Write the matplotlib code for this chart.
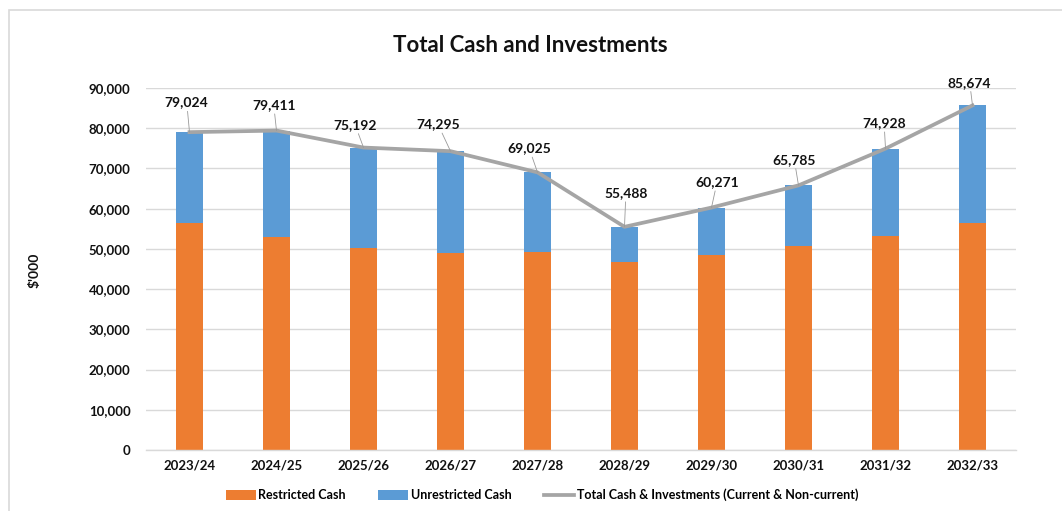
#!/usr/bin/env python3

import matplotlib
matplotlib.use('Agg')
import matplotlib.pyplot as plt
from matplotlib.patches import Rectangle
import numpy as np

# ------------------------------------------
# Data ($'000)
# ------------------------------------------
years = ['2023/24', '2024/25', '2025/26', '2026/27', '2027/28',
         '2028/29', '2029/30', '2030/31', '2031/32', '2032/33']
total = [79024, 79411, 75192, 74295, 69025, 55488, 60271, 65785, 74928, 85674]
restricted = [56400, 52900, 50300, 49100, 49300, 46700, 48500, 50600, 53100, 56400]
unrestricted = [t - r for t, r in zip(total, restricted)]

# label offsets in points (dx, dy) from each line point
label_offsets = [(-2, 17), (-2, 14), (-6, 12), (-9, 15), (-6, 13),
                 (1, 20), (4, 14), (-3, 14), (-1, 14), (-2, 12)]

ORANGE = '#ED7D31'
BLUE = '#5B9BD5'
GREY = '#A5A5A5'

plt.rcParams['font.family'] = ['Lato', 'DejaVu Sans']


def main():
    fig = plt.figure(figsize=(10.62, 5.11), dpi=100)

    # outer chart border
    fig.patches.append(Rectangle((9 / 1062, -0.1), 1.2, 1.1 - 10 / 511,
                                 transform=fig.transFigure, fill=False,
                                 edgecolor='#D9D9D9', linewidth=1.2))

    ax = fig.add_axes([146 / 1062, 61 / 511, 870 / 1062, 362 / 511])
    x = np.arange(len(years))

    b1 = ax.bar(x, restricted, width=0.31, color=ORANGE, label='Restricted Cash', zorder=2)
    b2 = ax.bar(x, unrestricted, width=0.31, bottom=restricted, color=BLUE,
                label='Unrestricted Cash', zorder=2)
    ln, = ax.plot(x, total, color=GREY, linewidth=2.7, zorder=3,
                  label='Total Cash & Investments (Current & Non-current)')

    for xi, t, (dx, dy) in zip(x, total, label_offsets):
        ax.annotate(f'{t:,}', (xi, t), xytext=(dx, dy), textcoords='offset points',
                    ha='center', va='bottom', fontsize=10, fontweight='bold',
                    color='#111111', zorder=4,
                    arrowprops=dict(arrowstyle='-', color='#999999', lw=0.6,
                                    shrinkA=0, shrinkB=0))

    ax.set_xlim(-0.5, len(years) - 0.5)
    ax.set_ylim(0, 90000)
    ax.set_yticks(np.arange(0, 90001, 10000))
    ax.set_yticklabels([f'{v:,}' for v in range(0, 90001, 10000)])
    ax.set_xticks(x)
    ax.set_xticklabels(years)
    ax.tick_params(axis='both', length=0, labelsize=9.5, colors='#111111')
    ax.tick_params(axis='y', pad=11)
    ax.tick_params(axis='x', pad=7)
    for lab in ax.get_xticklabels() + ax.get_yticklabels():
        lab.set_fontweight('bold')

    ax.grid(axis='y', color='#D9D9D9', linewidth=1, zorder=0)
    for s in ['top', 'right', 'left']:
        ax.spines[s].set_visible(False)
    ax.spines['bottom'].set_color('#D9D9D9')
    ax.spines['bottom'].set_linewidth(1)

    fig.text(530 / 1062, 1 - 45 / 511, 'Total Cash and Investments', ha='center',
             va='center', fontsize=16, fontweight='bold', color='#111111')
    fig.text(35 / 1062, 1 - 270 / 511, "$'000", ha='center', va='center',
             rotation=90, fontsize=10, fontweight='bold', color='#111111')

    ax.legend([b1, b2, ln], [b1.get_label(), b2.get_label(), ln.get_label()],
              loc='center', bbox_to_anchor=(542 / 1062, 1 - 495 / 511),
              bbox_transform=fig.transFigure, ncol=3, frameon=False,
              prop={'size': 9, 'weight': 'bold'}, handlelength=2.4, handleheight=0.8,
              columnspacing=2.6, handletextpad=0.2)

    fig.savefig('out.png', dpi=100)


if __name__ == "__main__":
    main()
